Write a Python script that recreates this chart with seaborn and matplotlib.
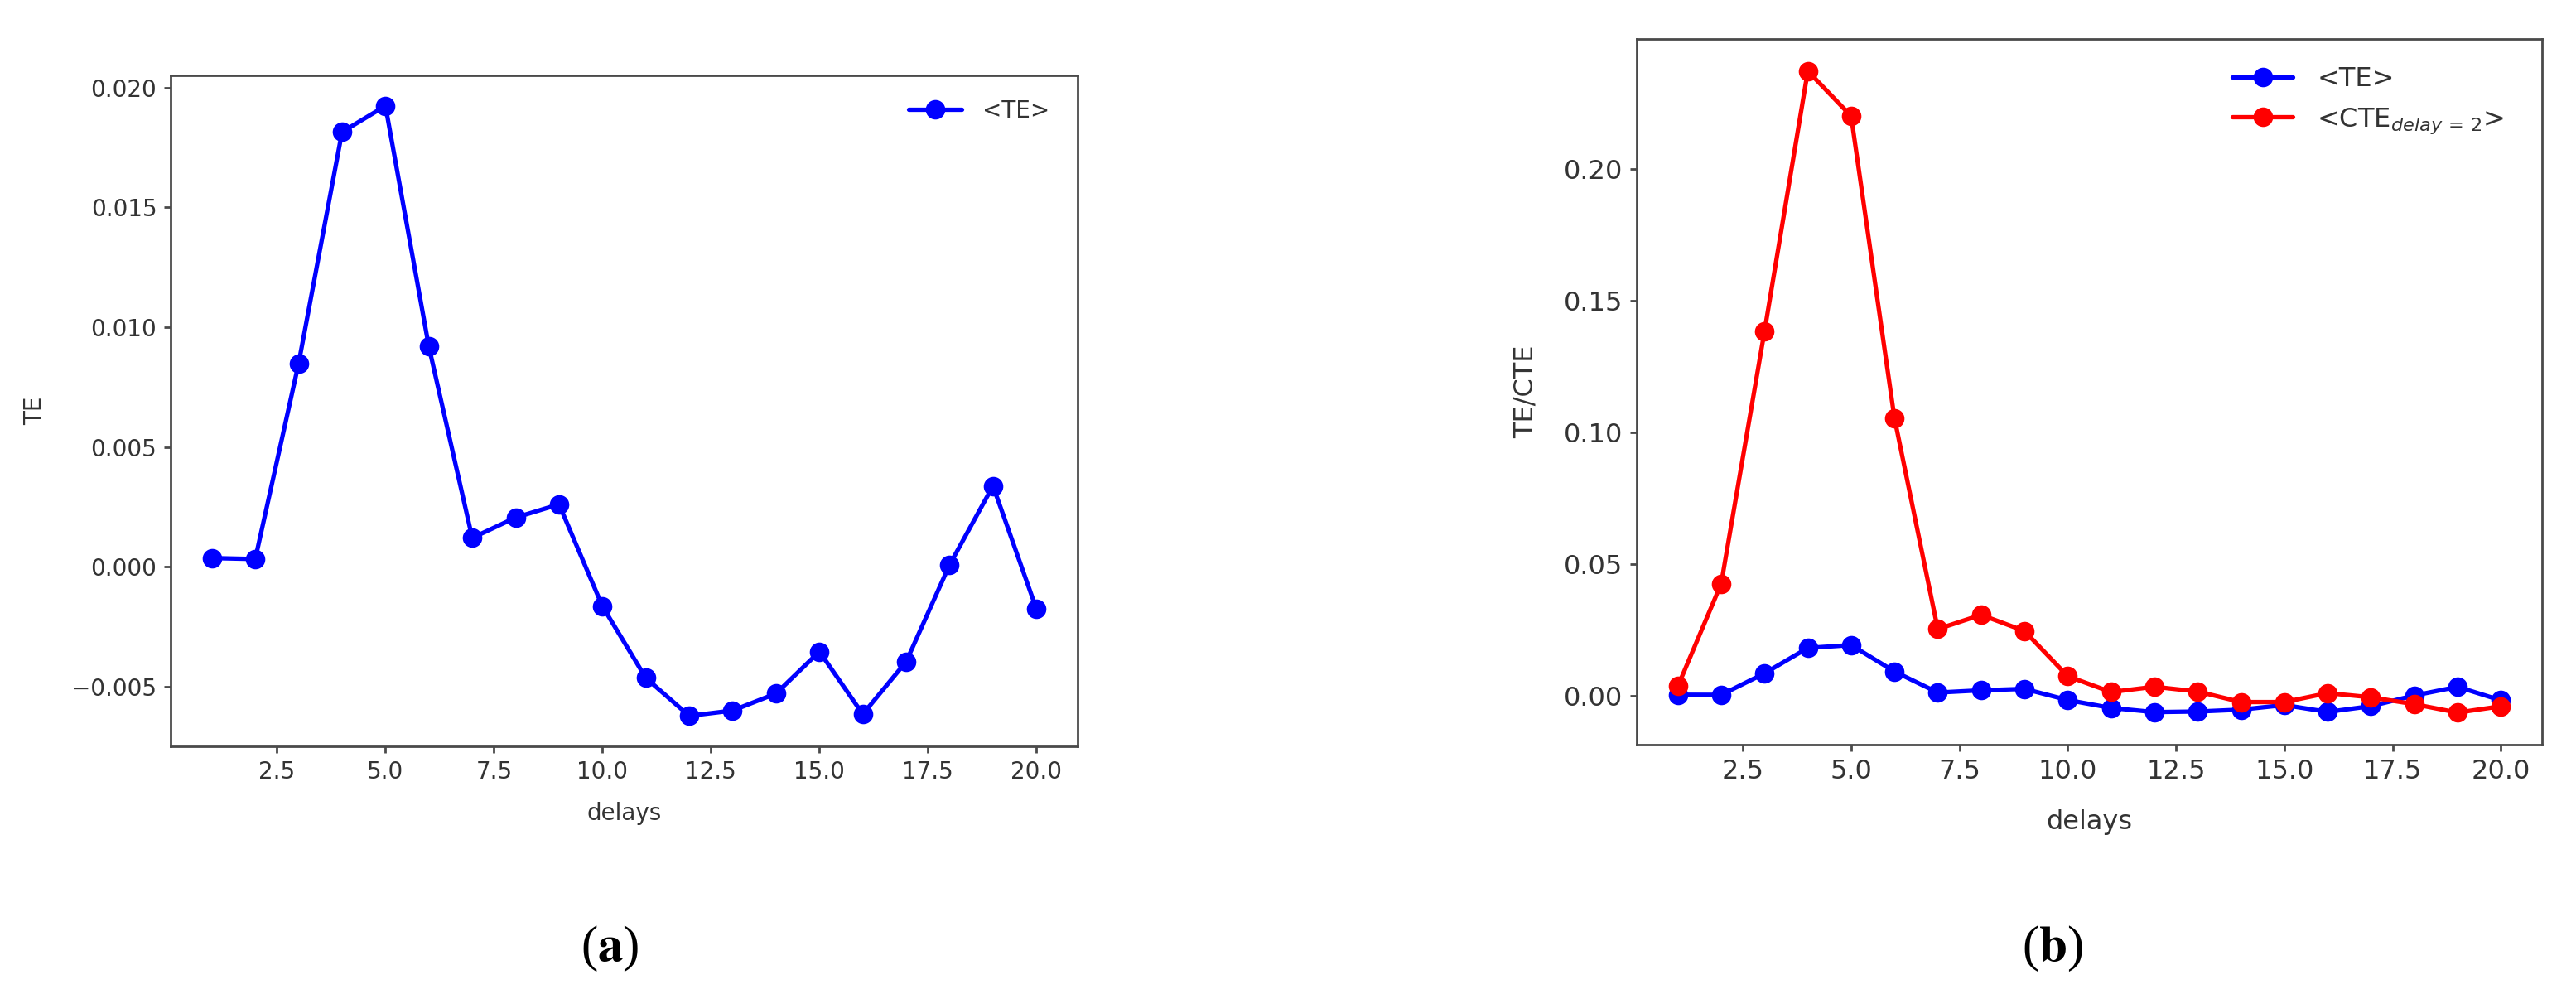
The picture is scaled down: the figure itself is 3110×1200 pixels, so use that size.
import numpy as np
import pandas as pd
import seaborn as sns
import matplotlib
matplotlib.use("Agg")
import matplotlib.pyplot as plt

# ---- data ----
delays = list(range(1, 21))
te_values = [0.00037, 0.00033, 0.00849, 0.01814, 0.01923, 0.00919, 0.00121, 0.00206,
             0.00261, -0.00164, -0.00463, -0.00621, -0.00599, -0.00528, -0.00353,
             -0.00614, -0.00395, 0.00009, 0.00338, -0.00175]
cte_values = [0.0036, 0.0425, 0.1383, 0.2371, 0.2200, 0.1054, 0.0253, 0.0307,
              0.0246, 0.0074, 0.0014, 0.0034, 0.0016, -0.0024, -0.0024,
              0.0010, -0.0006, -0.0032, -0.0064, -0.0040]
te_label = "<TE>"
cte_label = "<CTE$_{delay\\,=\\,2}$>"
x_label = "delays"
y_label_a = "TE"
y_label_b = "TE/CTE"
panel_labels = ["a", "b"]

sns.set_style("ticks")
plt.rcParams["font.family"] = ["DejaVu Sans"]
text_col = "#333333"
spine_col = "#4a4a4a"

W, H = 3110, 1200
fig = plt.figure(figsize=(W / 100, H / 100), dpi=100)

df = pd.DataFrame({"delays": delays, "TE": te_values, "CTE": cte_values})

line_kw = dict(marker="o", markersize=17, linewidth=3.8)


def style_axes(ax, fs):
    for s in ax.spines.values():
        s.set_visible(True)
        s.set_color(spine_col)
        s.set_linewidth(2.0)
    ax.tick_params(axis="both", direction="out", length=6, width=2,
                   color=spine_col, labelsize=fs, labelcolor=text_col, pad=6)
    ax.xaxis.label.set_color(text_col)
    ax.yaxis.label.set_color(text_col)


# ---- panel (a) ----
ax1 = fig.add_axes([206 / W, 1 - 901 / H, 1095 / W, 810 / H])
sns.lineplot(data=df, x="delays", y="TE", ax=ax1, color="blue", label=te_label,
             markeredgecolor="blue", markeredgewidth=0, **line_kw)
ax1.set_xlabel(x_label, fontsize=20, labelpad=16)
ax1.set_ylabel(y_label_a, fontsize=20, labelpad=22)
style_axes(ax1, 20)
leg1 = ax1.legend(loc="upper left", frameon=False, fontsize=20, handlelength=2.3,
                  borderaxespad=0, borderpad=0, handletextpad=0.9,
                  bbox_to_anchor=(1097 / W, 1 - 120 / H), bbox_transform=fig.transFigure)
for t in leg1.get_texts():
    t.set_color(text_col)

# ---- panel (b) ----
ax2 = fig.add_axes([1976 / W, 1 - 899 / H, 1093 / W, 852 / H])
sns.lineplot(data=df, x="delays", y="TE", ax=ax2, color="blue", label=te_label,
             markeredgecolor="blue", markeredgewidth=0, **line_kw)
sns.lineplot(data=df, x="delays", y="CTE", ax=ax2, color="red", label=cte_label,
             markeredgecolor="red", markeredgewidth=0, **line_kw)
ax2.set_xlabel(x_label, fontsize=23, labelpad=22)
ax2.set_ylabel(y_label_b, fontsize=23, labelpad=22)
style_axes(ax2, 23)
leg2 = ax2.legend(loc="upper left", frameon=False, fontsize=23, handlelength=2.3,
                  borderaxespad=0, borderpad=0, handletextpad=0.9, labelspacing=0.55,
                  bbox_to_anchor=(2695 / W, 1 - 80 / H), bbox_transform=fig.transFigure)
for t in leg2.get_texts():
    t.set_color(text_col)

# ---- panel labels ----
for lbl, xc in zip(panel_labels, [736 / W, 2478 / W]):
    fig.text(xc, 1 - 1145 / H, "($\\mathbf{" + lbl + "}$)", ha="center", va="center",
             fontsize=44, family="Liberation Serif", math_fontfamily="stix", color="black")

fig.savefig("out.png", dpi=100)
